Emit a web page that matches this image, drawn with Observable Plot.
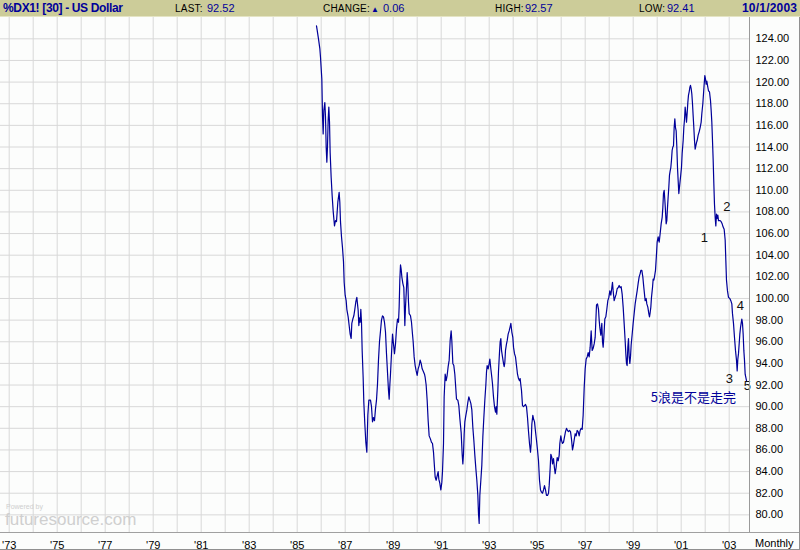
<!DOCTYPE html>
<html><head><meta charset="utf-8">
<script src="https://cdn.jsdelivr.net/npm/d3@7"></script>
<script src="https://cdn.jsdelivr.net/npm/@observablehq/plot@0.6"></script>
<style>
body{margin:0;background:#fff;}
#wrap{position:relative;width:800px;height:550px;overflow:hidden;font-family:"Liberation Sans",Arial,sans-serif;background:#fcfdfc;}
#hdr{position:absolute;left:0;top:0;width:800px;height:16px;background:#cccc99;border-bottom:1px solid #e4e4c4;}
#hdr span{position:absolute;top:2px;font-size:10px;line-height:13px;white-space:nowrap;letter-spacing:0.2px;}
#hdr .k{color:#000;}
#hdr .n{color:#000099;font-size:11px;letter-spacing:0;}
#hdr .b{font-weight:bold;font-size:12px;color:#000099;top:1px;line-height:14px;}
#chart{position:absolute;left:0;top:17px;}
.ln{position:absolute;background:#a0a0a0;}
.wm{position:absolute;color:#cfcfcf;white-space:nowrap;}
</style></head>
<body>
<div id="wrap">
  <div id="hdr">
    <span class="b" style="left:3px;letter-spacing:-0.35px">%DX1! [30] - US Dollar</span>
    <span class="k" style="left:175px">LAST:</span><span class="n" style="left:207px">92.52</span>
    <span class="k" style="left:323px">CHANGE:</span><span class="n" style="left:371px;font-size:8px;top:3px">&#9650;</span><span class="n" style="left:383px">0.06</span>
    <span class="k" style="left:495px">HIGH:</span><span class="n" style="left:525px">92.57</span>
    <span class="k" style="left:639px">LOW:</span><span class="n" style="left:667px">92.41</span>
    <span class="b" style="left:742px">10/1/2003</span>
  </div>
  <div id="chart"></div>
  <div class="wm" style="left:6px;top:503px;font-size:7px;line-height:8px">Powered by</div>
  <div class="wm" style="left:5px;top:511px;font-size:17px;line-height:18px">futuresource.com</div>
  <div class="ln" style="left:0;top:532px;width:800px;height:1px"></div>
  <div class="ln" style="left:749px;top:17px;width:1px;height:515px;background:#9a9a9a"></div>
  <div class="ln" style="left:0;top:549px;width:800px;height:1px;background:#909090"></div>
  <div class="ln" style="left:799px;top:17px;width:1px;height:533px;background:#909090"></div>
  <div style="position:absolute;left:755px;top:537px;font-size:11px;color:#000">Monthly</div>
</div>
<script>
// Monthly US Dollar Index (continuous) – vertices (decimal year, value)
const t = [
1985.804,1985.832,1985.887,1985.943,1985.971,1986.026,1986.054,1986.082,1986.110,1986.151,1986.179,1986.207,1986.235,1986.262,1986.290,1986.318,1986.346,1986.373,1986.415,1986.457,1986.498,1986.554,1986.596,1986.637,1986.693,1986.748,1986.776,1986.804,1986.846,1986.887,1986.929,1986.957,1986.998,1987.040,1987.068,1987.123,1987.165,1987.207,1987.248,1987.276,1987.318,1987.360,1987.401,1987.443,1987.485,1987.512,1987.540,1987.568,1987.596,1987.623,1987.651,1987.679,1987.707,1987.748,1987.776,1987.818,1987.860,1987.901,1987.943,1987.985,1988.054,1988.096,1988.137,1988.179,1988.221,1988.262,1988.304,1988.346,1988.387,1988.429,1988.471,1988.512,1988.554,1988.596,1988.637,1988.679,1988.721,1988.762,1988.804,1988.832,1988.860,1988.887,1988.929,1988.971,1988.998,1989.026,1989.054,1989.096,1989.137,1989.179,1989.221,1989.248,1989.276,1989.304,1989.332,1989.360,1989.401,1989.443,1989.485,1989.512,1989.554,1989.582,1989.610,1989.637,1989.665,1989.721,1989.762,1989.804,1989.832,1989.873,1989.915,1989.957,1989.998,1990.040,1990.082,1990.123,1990.165,1990.207,1990.248,1990.304,1990.332,1990.373,1990.415,1990.457,1990.498,1990.554,1990.596,1990.637,1990.679,1990.721,1990.748,1990.790,1990.832,1990.873,1990.901,1990.943,1990.985,1991.026,1991.054,1991.096,1991.123,1991.165,1991.207,1991.248,1991.290,1991.332,1991.373,1991.415,1991.443,1991.485,1991.526,1991.568,
1991.638,1991.693,1991.735,1991.777,1991.832,1991.874,1991.902,1991.929,1991.957,1991.985,1992.027,1992.068,1992.110,1992.152,1992.193,1992.235,1992.277,1992.318,1992.360,1992.402,1992.443,1992.485,1992.527,1992.554,1992.582,1992.610,1992.652,1992.693,1992.735,1992.777,1992.818,1992.860,1992.888,1992.915,1992.957,1992.999,1993.027,1993.068,1993.110,1993.138,1993.179,1993.221,1993.263,1993.290,1993.318,1993.360,1993.388,1993.429,1993.457,1993.485,1993.513,1993.554,1993.596,1993.624,1993.652,1993.679,1993.721,1993.749,1993.790,1993.832,1993.874,1993.902,1993.943,1993.985,1994.013,1994.054,1994.096,1994.138,1994.179,1994.221,1994.263,1994.290,1994.318,1994.346,1994.388,1994.429,1994.471,1994.513,1994.554,1994.596,1994.638,1994.679,1994.721,1994.749,1994.777,1994.818,1994.846,1994.888,1994.929,1994.971,1995.013,1995.054,1995.096,1995.138,1995.179,1995.221,1995.263,1995.304,1995.346,1995.388,1995.429,1995.471,1995.499,1995.540,1995.568,1995.610,1995.638,1995.679,1995.721,1995.749,1995.790,1995.832,1995.874,1995.915,1995.943,1995.985,1996.013,1996.054,1996.096,1996.138,1996.179,1996.221,1996.263,1996.304,1996.346,1996.388,1996.429,1996.471,1996.499,1996.540,1996.582,1996.624,1996.665,1996.707,1996.749,1996.790,1996.832,1996.874,1996.915,1996.957,1996.999,1997.040,1997.082,1997.124,1997.165,1997.207,1997.249,1997.290,1997.332,1997.374,1997.415,
1997.471,1997.512,1997.554,1997.582,1997.610,1997.651,1997.693,1997.721,1997.748,1997.776,1997.818,1997.860,1997.901,1997.943,1997.985,1998.026,1998.068,1998.110,1998.137,1998.165,1998.207,1998.248,1998.290,1998.332,1998.373,1998.415,1998.457,1998.498,1998.540,1998.582,1998.623,1998.665,1998.693,1998.721,1998.748,1998.776,1998.804,1998.832,1998.860,1998.887,1998.915,1998.957,1998.998,1999.040,1999.082,1999.123,1999.165,1999.207,1999.248,1999.290,1999.318,1999.360,1999.401,1999.443,1999.471,1999.498,1999.540,1999.568,1999.610,1999.651,1999.679,1999.707,1999.735,1999.762,1999.804,1999.832,1999.860,1999.887,1999.929,1999.971,1999.998,2000.040,2000.082,2000.123,2000.165,2000.207,2000.235,2000.262,2000.290,2000.318,2000.346,2000.373,2000.401,2000.429,2000.457,2000.485,2000.512,2000.540,2000.568,2000.596,2000.623,2000.651,2000.679,2000.707,2000.735,2000.762,2000.790,2000.818,2000.846,2000.873,2000.901,2000.929,2000.957,2000.985,2001.012,2001.040,2001.082,2001.110,2001.137,2001.165,2001.193,2001.221,2001.248,2001.276,2001.304,2001.332,2001.360,2001.387,2001.415,2001.443,2001.471,2001.498,2001.526,2001.554,2001.582,2001.610,2001.637,2001.665,2001.707,2001.748,2001.790,2001.832,2001.860,2001.901,2001.929,2001.957,2001.985,2002.012,2002.040,2002.068,2002.096,2002.137,2002.179,2002.221,2002.248,2002.276,2002.304,2002.332,2002.360,2002.387,2002.415,2002.443,2002.471,2002.498,2002.526,2002.554,2002.582,2002.623,2002.665,2002.707,2002.748,2002.790,2002.832,2002.860,2002.887,2002.929,2002.971,2003.026,2003.068,2003.110,2003.137,2003.179,2003.221,2003.262,2003.304,2003.332,2003.360,2003.387,2003.415,2003.443,2003.471,2003.498,2003.526,2003.554,2003.582,2003.610,2003.637,2003.665,2003.693,2003.721
];
const v = [
125.2,124.8,124.0,123.1,122.3,120.3,116.9,115.2,117.4,118.1,116.8,114.0,112.6,114.0,116.5,117.7,116.3,113.5,111.2,109.5,108.1,106.7,107.2,107.1,108.9,109.8,108.9,107.1,105.7,104.7,103.4,101.5,100.3,99.8,99.0,98.3,97.5,96.7,96.3,97.7,98.1,98.4,99.0,99.7,100.1,99.5,98.9,97.5,98.2,97.8,99.0,97.8,95.2,92.7,90.4,88.4,86.7,85.8,89.2,90.6,90.6,90.0,88.6,89.0,88.7,89.8,90.6,92.1,94.3,96.0,97.0,98.0,98.4,98.3,97.8,96.9,94.9,93.2,91.5,90.7,92.0,93.0,94.9,96.7,96.1,95.5,94.9,95.8,97.2,98.1,97.8,99.2,101.7,103.1,102.7,102.0,101.4,101.0,97.5,99.2,101.0,102.4,101.4,99.7,98.6,98.4,97.8,96.7,96.0,94.6,93.8,93.3,92.9,93.5,93.8,94.3,94.0,93.5,93.3,93.0,92.7,92.0,90.6,88.7,87.3,87.0,86.7,86.6,85.8,84.4,83.5,83.2,83.6,84.0,83.3,82.9,82.3,83.0,84.0,86.6,90.9,93.0,92.4,92.9,93.7,94.3,96.1,97.0,96.1,94.0,93.8,93.0,
90.7,90.6,90.1,88.9,87.6,85.6,84.7,85.6,87.5,88.6,89.2,89.7,90.4,90.9,90.6,90.3,89.7,88.1,86.9,85.5,84.3,83.2,81.8,80.1,79.2,81.8,83.2,84.6,87.2,89.0,90.6,92.0,93.2,93.8,93.5,94.0,94.4,93.5,92.7,92.1,90.9,90.0,89.5,90.0,89.3,91.5,93.3,95.0,96.0,96.3,95.2,94.6,94.0,93.7,94.1,95.2,95.8,96.1,96.7,97.0,97.4,97.7,96.9,96.4,95.5,94.9,94.6,93.8,93.0,92.6,92.4,92.6,92.0,91.5,90.1,90.0,90.1,90.2,90.0,89.0,87.7,86.6,85.8,86.6,88.4,89.2,88.9,88.6,87.7,86.9,86.0,85.0,83.2,82.3,82.1,82.0,82.3,82.7,82.3,81.8,81.8,82.0,82.7,84.3,85.6,85.3,84.7,85.2,84.3,83.8,84.4,85.3,85.0,85.5,86.6,87.3,86.9,86.6,86.7,87.2,87.7,88.0,87.8,87.7,87.8,87.7,87.0,86.0,86.3,86.9,87.5,87.3,87.8,87.7,87.3,87.8,88.0,87.9,89.2,91.7,93.5,94.4,94.6,95.0,94.6,95.5,97.0,95.2,95.4,95.8,96.4,
99.4,99.5,99.0,98.0,97.3,96.6,97.7,96.0,95.5,96.4,98.1,98.3,99.0,99.8,100.1,100.7,100.3,101.0,101.5,100.7,99.8,100.1,100.4,100.9,101.0,101.2,101.0,101.1,100.4,99.2,97.7,96.1,94.9,94.0,93.8,95.5,96.3,94.6,94.0,94.6,95.7,96.7,97.7,98.6,99.5,100.1,100.7,101.4,102.0,102.3,102.6,102.6,102.0,101.0,100.4,99.8,100.0,99.5,99.2,98.6,98.3,98.7,99.2,100.1,101.0,101.8,101.7,102.0,102.6,104.1,105.2,105.7,105.2,106.0,106.9,107.5,108.4,109.7,110.0,109.1,108.1,106.9,107.2,108.4,109.4,110.3,111.4,111.8,112.1,112.8,113.7,114.0,114.1,115.8,116.6,115.8,115.5,114.0,112.1,110.9,109.7,110.3,110.9,111.5,112.1,113.4,114.6,115.8,116.5,117.7,117.1,116.3,117.1,118.1,118.8,119.1,119.5,119.7,119.4,118.9,118.0,116.9,115.8,114.6,113.8,114.1,114.4,114.6,115.1,115.4,115.8,116.3,117.1,118.0,118.9,119.8,120.6,120.3,119.8,120.1,119.7,119.2,119.1,118.3,117.4,116.3,114.6,112.8,110.6,108.7,107.5,106.7,107.8,107.4,107.7,107.2,107.2,107.2,107.1,106.9,106.6,106.4,105.4,103.5,101.7,100.7,100.1,100.0,99.8,99.5,98.6,97.7,96.4,95.2,94.3,93.3,94.4,94.9,95.8,96.7,97.3,97.7,98.1,97.7,96.7,95.2,94.3,93.0,92.7,92.4
];
const gridYears = d3.range(1973, 2004);            // yearly grid
const labelYears = d3.range(1973, 2004, 2);        // '73 … '03
const yTicks = d3.range(80, 125, 2);               // 80.00 … 124.00
const waveLabels = ["1","2","3","4","5"];
const waveT = [2001.97, 2002.90, 2003.01, 2003.47, 2003.76];
const waveV = [105.6, 108.5, 92.6, 99.35, 91.9];
const noteText = ["5浪是不是走完"];
const noteT = [2001.51];
const noteV = [90.85];

const series = t.map((d, i) => ({t: d, v: v[i]}));
const waves = waveLabels.map((s, i) => ({s, t: waveT[i], v: waveV[i]}));
const notes = noteText.map((s, i) => ({s, t: noteT[i], v: noteV[i]}));

const chart = Plot.plot({
  width: 800, height: 533,
  marginLeft: 0, marginRight: 51, marginTop: 0, marginBottom: 18,
  style: {background: "transparent", fontFamily: "'Liberation Sans', Arial, sans-serif", fontSize: "11px", color: "#000", overflow: "visible"},
  x: {domain: [1972.6375, 2003.846], label: null},
  y: {domain: [78.37, 125.97], label: null},
  marks: [
    Plot.ruleX(gridYears, {stroke: "#d8d8d8", strokeWidth: 1}),
    Plot.ruleY(yTicks, {stroke: "#d8d8d8", strokeWidth: 1}),
    Plot.axisX(labelYears, {tickSize: 0, tickPadding: 9, fontSize: 11, fill: "#000", tickFormat: d => "'" + String(d).slice(2)}),
    Plot.axisY(yTicks, {anchor: "right", tickSize: 0, tickPadding: 6, fontSize: 11, fill: "#000", tickFormat: d3.format(".2f")}),
    Plot.line(series, {x: "t", y: "v", stroke: "#000099", strokeWidth: 1.2}),
    Plot.text(waves, {x: "t", y: "v", text: "s", fontSize: 13, fill: "#111", fontFamily: "'Liberation Sans', Arial, sans-serif"}),
    Plot.text(notes, {x: "t", y: "v", text: "s", fontSize: 13, fill: "#000099", fontFamily: "'Noto Sans CJK SC', sans-serif"})
  ]
});
document.getElementById("chart").appendChild(chart);
</script>
</body></html>
